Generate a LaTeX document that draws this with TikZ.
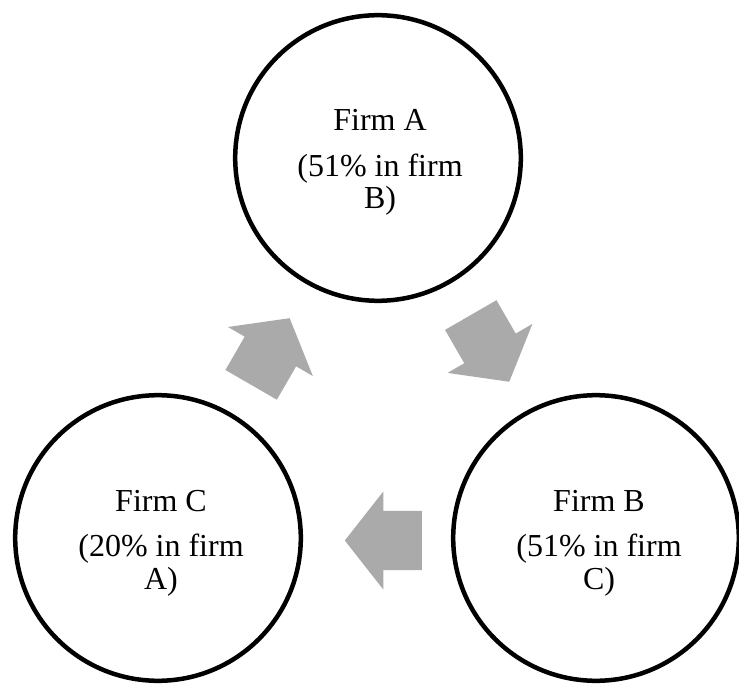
\documentclass[tikz,border=0pt]{standalone}
\usepackage{fontspec}
\setmainfont{Liberation Serif}
\usetikzlibrary{calc}
\definecolor{arrowgray}{RGB}{170,170,170}
\begin{document}
\begin{tikzpicture}[x=1pt,y=-1pt,
  firm/.style={circle,draw=black,line width=4.5pt,minimum size=285.6pt,inner sep=0pt},
  lbl/.style={anchor=base,inner sep=0pt,font=\fontsize{32}{32.7}\selectfont},
  blockarrow/.style={fill=arrowgray,draw=none}]
\useasboundingbox (0,0) rectangle (739,684);
% circles
\node[firm] (A) at (378,158) {};
\node[firm] (B) at (596,538) {};
\node[firm] (C) at (158,538) {};
% labels
\node[lbl] (A1) at ($(A)+(2,-27)$) {Firm A};
\node[lbl] (A2) at ($(A)+(2,18.7)$) {(51\% in firm};
\node[lbl] (A3) at ($(A)+(2,51)$) {B)};
\node[lbl] (B1) at ($(B)+(3,-27)$) {Firm B};
\node[lbl] (B2) at ($(B)+(3,18.7)$) {(51\% in firm};
\node[lbl] (B3) at ($(B)+(3,51)$) {C)};
\node[lbl] (C1) at ($(C)+(3,-27)$) {Firm C};
\node[lbl] (C2) at ($(C)+(3,18.7)$) {(20\% in firm};
\node[lbl] (C3) at ($(C)+(3,51)$) {A)};
% block arrows
\coordinate (arCA) at (270.4,351.5);
\coordinate (arAB) at (490,348.4);
\coordinate (arBC) at (383.3,540.5);
\draw[blockarrow,shift={(arCA)},rotate=60]
  (-38.5,-29.7) -- (0,-29.7) -- (0,-49) -- (38.5,0) -- (0,49) -- (0,29.7) -- (-38.5,29.7) -- cycle;
\draw[blockarrow,shift={(arAB)},rotate=-60]
  (-38.5,-29.7) -- (0,-29.7) -- (0,-49) -- (38.5,0) -- (0,49) -- (0,29.7) -- (-38.5,29.7) -- cycle;
\draw[blockarrow,shift={(arBC)},rotate=180]
  (-38.5,-29.7) -- (0,-29.7) -- (0,-49) -- (38.5,0) -- (0,49) -- (0,29.7) -- (-38.5,29.7) -- cycle;
\end{tikzpicture}
\end{document}
